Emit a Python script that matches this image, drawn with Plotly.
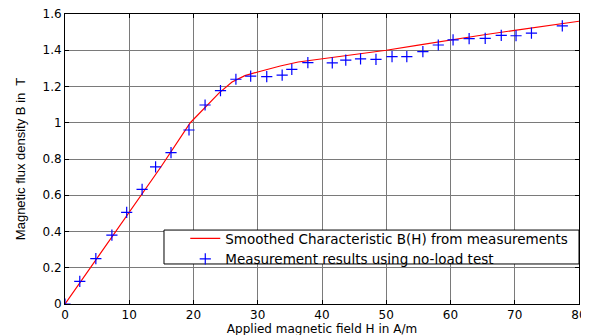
import plotly.graph_objects as go

# Smoothed characteristic B(H)
curve_H = [0, 5, 10, 15, 19.5, 22, 24, 26, 28, 30, 33.5, 36.3, 40, 45, 50, 55, 60, 65, 70, 75, 80]
curve_B = [0, 0.255, 0.51, 0.76, 1.0, 1.09, 1.165, 1.225, 1.26, 1.28, 1.313, 1.335, 1.352,
           1.378, 1.40, 1.428, 1.458, 1.484, 1.51, 1.535, 1.56]

# Measurement results (no-load test)
meas_H = [0, 2.3, 4.8, 7.3, 9.6, 12.0, 14.1, 16.5, 19.3, 21.8, 24.2, 26.6, 28.9, 31.4, 33.8,
          35.3, 37.8, 41.6, 43.7, 46.0, 48.4, 50.9, 53.2, 55.7, 58.1, 60.4, 62.9, 65.4, 67.9,
          70.2, 72.6, 77.4]
meas_B = [0, 0.125, 0.25, 0.38, 0.505, 0.632, 0.757, 0.835, 0.96, 1.098, 1.177, 1.24, 1.257,
          1.254, 1.263, 1.294, 1.332, 1.33, 1.345, 1.352, 1.35, 1.365, 1.365, 1.392, 1.429,
          1.457, 1.464, 1.466, 1.482, 1.48, 1.494, 1.534]

x_ticks = [0, 10, 20, 30, 40, 50, 60, 70, 80]
y_ticks = [0, 0.2, 0.4, 0.6, 0.8, 1.0, 1.2, 1.4, 1.6]
y_tick_text = ["0", "0.2", "0.4", "0.6", "0.8", "1", "1.2", "1.4", "1.6"]

HFONT = "DejaVu Sans"

fig = go.Figure()
fig.add_trace(go.Scatter(
    x=curve_H, y=curve_B, mode="lines",
    line=dict(color="#ff0000", width=1.2),
    name="Smoothed Characteristic B(H) from measurements",
))
fig.add_trace(go.Scatter(
    x=meas_H, y=meas_B, mode="markers",
    marker=dict(symbol="cross-thin-open", size=8, color="#0000ff",
                line=dict(color="#0000ff", width=1.2)),
    name="Measurement results using no-load test",
))

axis_common = dict(
    showline=True, linecolor="black", linewidth=1, mirror="ticks",
    ticks="inside", ticklen=4, tickcolor="black",
    showgrid=True, gridcolor="#7a7a7a", gridwidth=1,
    zeroline=False, automargin=False, ticklabeloverflow="allow",
    tickfont=dict(family=HFONT, size=12, color="black"),
)

fig.update_xaxes(
    range=[0, 80], tickvals=x_ticks, **axis_common,
    title=dict(text="Applied magnetic field H in A/m",
               font=dict(family=HFONT, size=12, color="black"), standoff=1),
)
fig.update_yaxes(
    range=[0, 1.6], tickvals=y_ticks, ticktext=y_tick_text, **axis_common,
    title=dict(text="Magnetic flux density B in  T",
               font=dict(family="Liberation Sans", size=13, color="black"), standoff=13),
)

# legend frame
fig.add_shape(type="rect", xref="paper", yref="paper",
              x0=0.1926, x1=1.0, y0=0.138, y1=0.255,
              line=dict(color="black", width=1), fillcolor="white", layer="above")

# page body has an 8px default margin; compensate so the plot area lands at
# x 65..579, y 14..304 in the 589x335 window
fig.update_layout(
    width=589, height=335,
    margin=dict(l=57, r=18, t=6, b=39),
    paper_bgcolor="white", plot_bgcolor="white",
    showlegend=True,
    legend=dict(x=0.234, y=0.279, xanchor="left", yanchor="top",
                bgcolor="rgba(0,0,0,0)", borderwidth=0,
                font=dict(family=HFONT, size=13.5, color="black"),
                tracegroupgap=0),
)

fig.write_html("out.html")
